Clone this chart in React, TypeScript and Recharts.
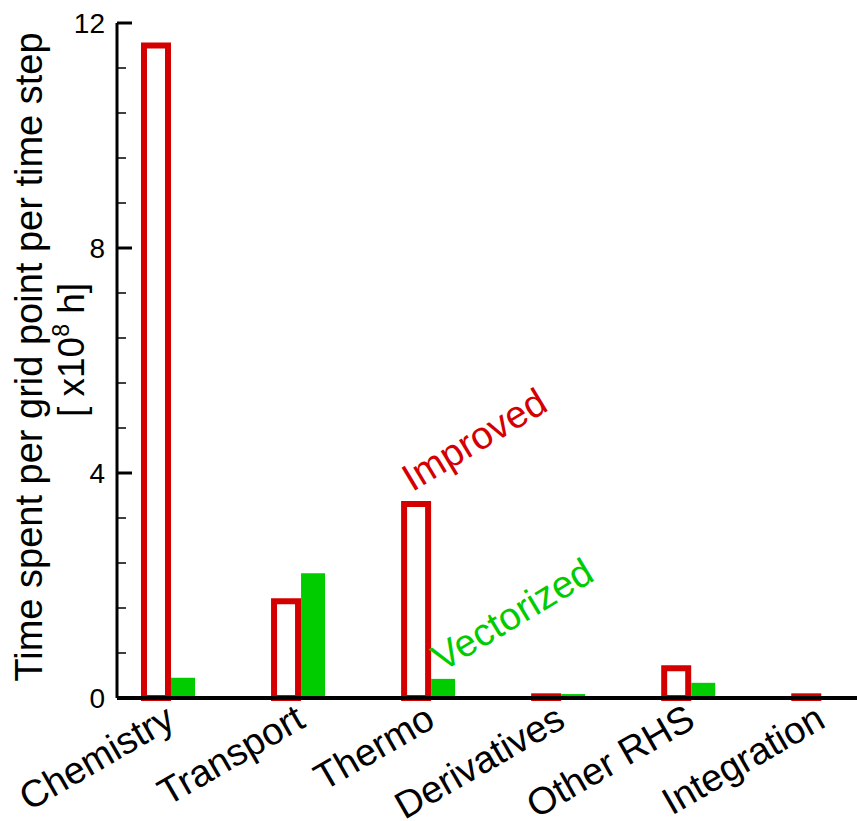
import React from "react";
import { BarChart, Bar, XAxis, YAxis, ReferenceDot } from "recharts";

const categories = ["Chemistry", "Transport", "Thermo", "Derivatives", "Other RHS", "Integration"];
const improved = [11.6, 1.72, 3.45, 0.03, 0.53, 0.03];
const vectorized = [0.36, 2.22, 0.34, 0.07, 0.27, 0.005];
const majorTicks = [0, 4, 8, 12];
const yTicks = [0, 0.8, 1.6, 2.4, 3.2, 4, 4.8, 5.6, 6.4, 7.2, 8, 8.8, 9.6, 10.4, 11.2, 12];
const xTicks = [1, 2, 3, 4, 5, 6];

const RED = "#d40000";
const GREEN = "#00cc00";
const FONT = "'Liberation Sans', Arial, sans-serif";

const data = categories.map((name, i) => ({
  pos: i + 1,
  name,
  improved: improved[i],
  vectorized: vectorized[i],
}));

function YTick(props: any) {
  const { x, y, payload } = props;
  const major = majorTicks.includes(payload.value);
  return (
    <g>
      <line x1={x} x2={x + (major ? 15 : 9)} y1={y} y2={y} stroke="#000" strokeWidth={major ? 3 : 1.5} />
      {major && (
        <text x={x - 12} y={y} dy={10} textAnchor="end" fontSize={28} fill="#000" fontFamily={FONT}>
          {payload.value}
        </text>
      )}
    </g>
  );
}

function XTick(props: any) {
  const { x, y, payload } = props;
  const tx = x + 8;
  const ty = y + 28;
  return (
    <text
      x={tx}
      y={ty}
      transform={`rotate(-30 ${tx} ${ty})`}
      textAnchor="end"
      fontSize={38}
      fill="#000"
      fontFamily={FONT}
    >
      {categories[payload.value - 1]}
    </text>
  );
}

function Note(props: any) {
  const { viewBox, text, color } = props;
  const x = viewBox.x;
  const y = viewBox.y;
  return (
    <text x={x} y={y} transform={`rotate(-31 ${x} ${y})`} fontSize={38.5} fill={color} fontFamily={FONT}>
      {text}
    </text>
  );
}

function YLabel() {
  return (
    <g fontFamily={FONT} fill="#000">
      <text x={30} y={357} transform="rotate(-90 30 357)" textAnchor="middle" fontSize={38} dy={12}>
        Time spent per grid point per time step
      </text>
      <text x={72} y={350} transform="rotate(-90 72 350)" textAnchor="middle" fontSize={37} dy={12}>
        [ x10
        <tspan fontSize={23} dy={-15}>8</tspan>
        <tspan dy={15}> h]</tspan>
      </text>
    </g>
  );
}

export default function App() {
  return (
    <div style={{ position: "absolute", left: 0, top: 0, background: "#fff" }}>
      <BarChart
        width={857}
        height={821}
        data={data}
        margin={{ top: 23, right: 0, bottom: 0, left: 0 }}
        barGap={3}
      >
        <Bar dataKey="improved" fill="#fff" stroke={RED} strokeWidth={6} barSize={24} isAnimationActive={false} />
        <Bar dataKey="vectorized" fill={GREEN} barSize={24} isAnimationActive={false} />
        <XAxis
          dataKey="pos"
          type="number"
          domain={[0.6, 6.29]}
          ticks={xTicks}
          interval={0}
          height={123}
          tickSize={0}
          tickMargin={0}
          tick={<XTick />}
          axisLine={{ stroke: "#000", strokeWidth: 4 }}
          tickLine={false}
        />
        <YAxis
          type="number"
          domain={[0, 12]}
          ticks={yTicks}
          interval={0}
          width={117}
          tickSize={0}
          tickMargin={0}
          tick={<YTick />}
          axisLine={{ stroke: "#000", strokeWidth: 3 }}
          tickLine={false}
        />
        <ReferenceDot x={2.87} y={3.66} r={0} label={<Note text="Improved" color={RED} />} />
        <ReferenceDot x={3.1} y={0.46} r={0} label={<Note text="Vectorized" color={GREEN} />} />
        <YLabel />
      </BarChart>
    </div>
  );
}
